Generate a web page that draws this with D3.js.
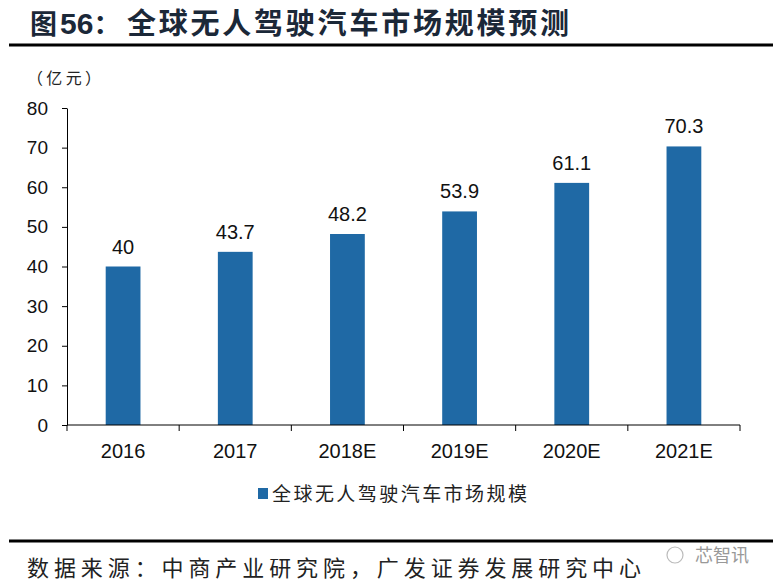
<!DOCTYPE html>
<html><head><meta charset="utf-8">
<script src="https://cdn.jsdelivr.net/npm/d3@7/dist/d3.min.js"></script>
<style>
html,body{margin:0;padding:0;background:#fff;}
svg{display:block;}
</style></head>
<body>
<svg id="c" width="773" height="586"></svg>
<script>
const categories = ["2016","2017","2018E","2019E","2020E","2021E"];
const values = [40, 43.7, 48.2, 53.9, 61.1, 70.3];
const yTicks = [0,10,20,30,40,50,60,70,80];
const seriesName = "全球无人驾驶汽车市场规模";
const titleText = "全球无人驾驶汽车市场规模预测";
const unitText = "（亿元）";
const sourceText = "数据来源：中商产业研究院，广发证券发展研究中心";

const svg = d3.select("#c");
const barColor = "#1f69a5";
const cjk = "'Noto Sans CJK SC', sans-serif";
const latin = "Arial, 'Liberation Sans', sans-serif";

// Title
const t = svg.append("text").attr("x", 30).attr("y", 34).attr("fill", "#1b2838");
t.append("tspan").attr("font-family", cjk).attr("font-weight", 700).attr("font-size", 27).text("图");
t.append("tspan").attr("font-family", latin).attr("font-weight", 700).attr("font-size", 30).attr("dx", 3).text("56");
t.append("tspan").attr("font-family", cjk).attr("font-weight", 700).attr("font-size", 27).text("：");
svg.append("text").attr("x", 127).attr("y", 34).attr("fill", "#1b2838")
  .attr("font-family", cjk).attr("font-weight", 700).attr("font-size", 29)
  .attr("textLength", 442).attr("lengthAdjust", "spacing").text(titleText);
svg.append("line").attr("x1", 9).attr("x2", 773).attr("y1", 45).attr("y2", 45)
  .attr("stroke", "#000").attr("stroke-width", 3);

// Unit
svg.append("text").attr("x", 27).attr("y", 84).attr("font-family", cjk).attr("font-size", 16)
  .attr("fill", "#222").attr("textLength", 74).attr("lengthAdjust", "spacing").text(unitText);

// Scales
const x = d3.scaleBand().domain(categories).range([67, 740]).paddingInner(0.69).paddingOuter(0.345);
const y = d3.scaleLinear().domain([0, 80]).range([425, 108]);

// Bars
svg.append("g").selectAll("rect").data(values).join("rect")
  .attr("x", (d,i) => x(categories[i]))
  .attr("y", d => y(d))
  .attr("width", x.bandwidth())
  .attr("height", d => y(0) - y(d))
  .attr("fill", barColor);

// Value labels
svg.append("g").selectAll("text").data(values).join("text")
  .attr("x", (d,i) => x(categories[i]) + x.bandwidth()/2)
  .attr("y", d => y(d) - 13)
  .attr("text-anchor", "middle")
  .attr("font-family", latin).attr("font-size", 20).attr("fill", "#111")
  .text(d => d);

// Y axis
const yAxis = d3.axisLeft(y).tickValues(yTicks).tickSize(5).tickSizeOuter(0).tickPadding(14);
const gy = svg.append("g").attr("transform", "translate(67,0)").call(yAxis);
gy.select(".domain").attr("stroke", "#000");
gy.selectAll(".tick line").attr("stroke", "#000");
gy.selectAll(".tick text").attr("font-family", latin).attr("font-size", 19).attr("fill", "#111");

// X axis with ticks between categories
const gx = svg.append("g").attr("transform", "translate(0,425)");
gx.append("line").attr("x1", 67).attr("x2", 740).attr("stroke", "#000");
const boundaries = categories.map(c => x(c) - x.step()*x.paddingInner()/2 ).concat([740]);
gx.selectAll("line.tk").data(boundaries).join("line").attr("class","tk")
  .attr("x1", d => d).attr("x2", d => d).attr("y1", 0).attr("y2", 6).attr("stroke", "#000");
gx.selectAll("text").data(categories).join("text")
  .attr("x", d => x(d) + x.bandwidth()/2).attr("y", 33)
  .attr("text-anchor", "middle").attr("font-family", latin).attr("font-size", 20).attr("fill", "#111")
  .text(d => d);

// Legend
svg.append("rect").attr("x", 258).attr("y", 488).attr("width", 10).attr("height", 11).attr("fill", barColor);
svg.append("text").attr("x", 272).attr("y", 501).attr("font-family", cjk).attr("font-size", 19)
  .attr("fill", "#222").attr("textLength", 255).attr("lengthAdjust", "spacing").text(seriesName);

// Footer
svg.append("line").attr("x1", 9).attr("x2", 773).attr("y1", 541).attr("y2", 541)
  .attr("stroke", "#000").attr("stroke-width", 3);
svg.append("text").attr("x", 27).attr("y", 576).attr("font-family", cjk).attr("font-size", 22)
  .attr("fill", "#222").attr("textLength", 614).attr("lengthAdjust", "spacing").text(sourceText);

// Watermark
svg.append("circle").attr("cx", 675).attr("cy", 555).attr("r", 8).attr("fill", "none").attr("stroke", "#bbb").attr("stroke-width", 1.2);
svg.append("text").attr("x", 695).attr("y", 562).attr("font-family", cjk).attr("font-size", 18)
  .attr("fill", "#999").text("芯智讯");
</script>
</body></html>
